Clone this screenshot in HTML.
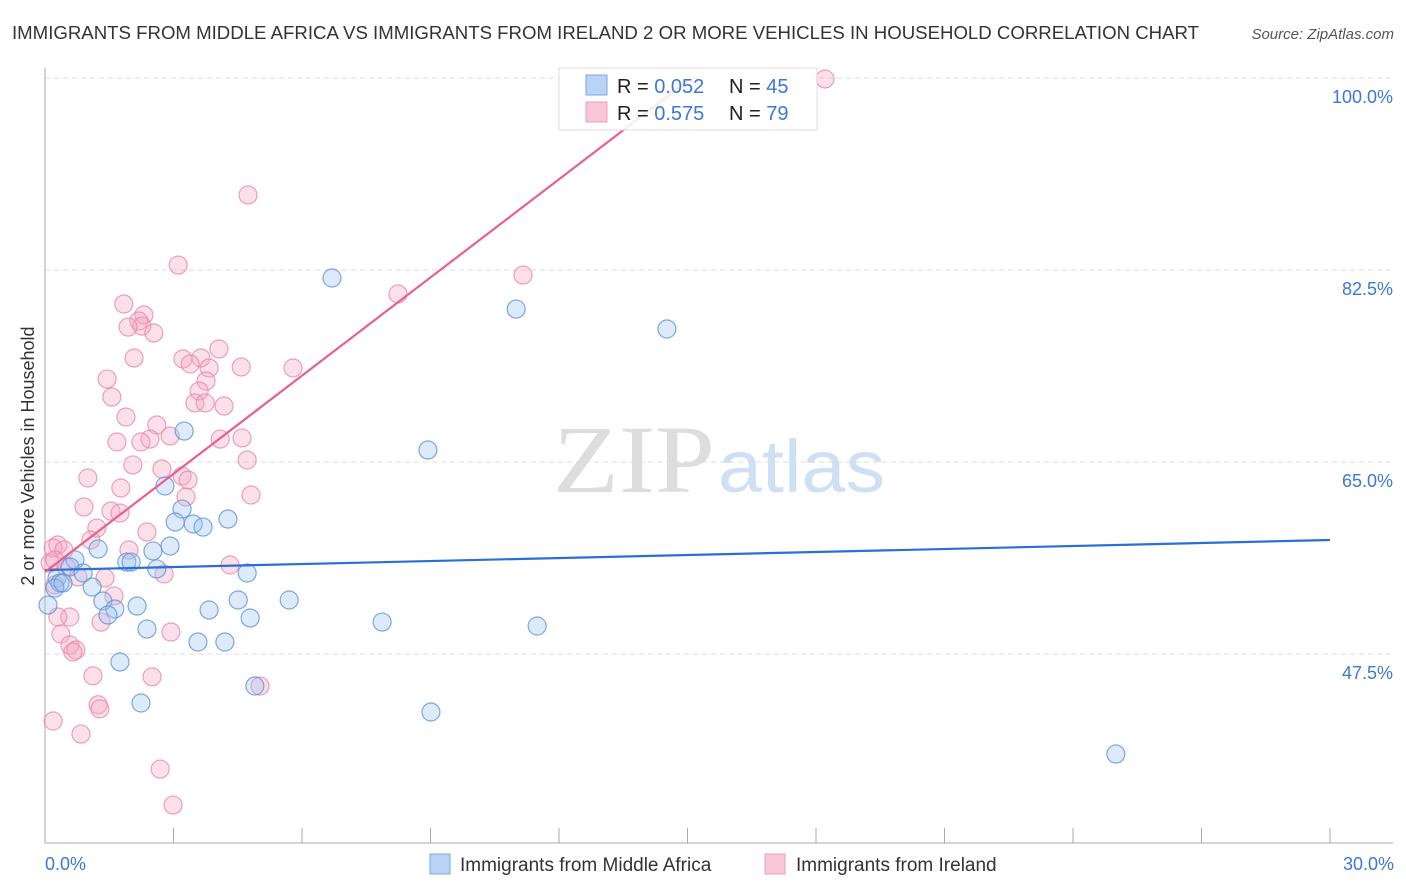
<!DOCTYPE html>
<html><head><meta charset="utf-8"><style>
body{margin:0;background:#fff;font-family:"Liberation Sans",sans-serif}
#wrap{position:relative;width:1406px;height:892px;overflow:hidden}
</style></head><body>
<div id="wrap">
<svg id="svg" width="1406" height="892" xmlns="http://www.w3.org/2000/svg">
<text x="12" y="39" font-size="18" fill="#333" textLength="1187" lengthAdjust="spacingAndGlyphs">IMMIGRANTS FROM MIDDLE AFRICA VS IMMIGRANTS FROM IRELAND 2 OR MORE VEHICLES IN HOUSEHOLD CORRELATION CHART</text>
<text x="1394" y="39" font-size="15" fill="#555" font-style="italic" text-anchor="end">Source: ZipAtlas.com</text>
<g>
<text x="553" y="492" font-family="Liberation Serif,serif" font-size="96" fill="#ddd" textLength="162" lengthAdjust="spacingAndGlyphs">ZIP</text>
<text x="718" y="492" font-size="74" fill="#cfe0f4" textLength="167" lengthAdjust="spacingAndGlyphs">atlas</text>
</g>
<g id="grid"></g><g id="axes"></g><g id="pts"></g><g id="trend"></g>
<g>
<rect x="559" y="68" width="258" height="62" fill="#fff" fill-opacity="0.85" stroke="#ddd"/>
<rect x="586" y="75" width="21" height="20" fill="#b8d3f5" stroke="#7aa8e4"/>
<rect x="586" y="102" width="21" height="20" fill="#f9c6d5" stroke="#eaa0b8"/>
<text x="617" y="93" font-size="20" fill="#222">R = <tspan fill="#3b78d8">0.052</tspan></text>
<text x="729" y="93" font-size="20" fill="#222">N = <tspan fill="#3b78d8">45</tspan></text>
<text x="617" y="120" font-size="20" fill="#222">R = <tspan fill="#3b78d8"> 0.575</tspan></text>
<text x="729" y="120" font-size="20" fill="#222">N = <tspan fill="#3b78d8">79</tspan></text>
</g>
<text transform="translate(34,456) rotate(-90)" font-size="18" fill="#333" text-anchor="middle">2 or more Vehicles in Household</text>
<text x="45" y="870" font-size="18" fill="#3b78d8">0.0%</text>
<text x="1394" y="870" font-size="18" fill="#3b78d8" text-anchor="end">30.0%</text>
<g>
<rect x="430" y="854" width="20" height="20" fill="#b8d3f5" stroke="#7aa8e4"/>
<text x="460" y="871" font-size="19" fill="#333">Immigrants from Middle Africa</text>
<rect x="765" y="854" width="20" height="20" fill="#f9c6d5" stroke="#eaa0b8"/>
<text x="796" y="871" font-size="19" fill="#333">Immigrants from Ireland</text>
</g>
</svg>
</div>
<script>
const yTicks=[100,82.5,65,47.5];
const yTickLabels=["100.0%","82.5%","65.0%","47.5%"];
const blueX=[6.70,11.00,14.52,8.94,3.25,2.80,3.20,3.04,3.46,3.69,4.27,1.24,2.52,2.92,0.70,1.91,2.01,2.61,4.72,0.58,0.89,0.28,0.35,0.23,1.10,1.35,2.15,1.63,1.47,3.83,4.51,4.79,5.70,7.87,11.49,2.38,3.57,4.20,1.75,4.90,2.24,9.01,25.00,0.07,0.42];
const blueY=[81.77,78.94,77.12,66.09,67.82,62.81,60.71,59.53,59.35,59.07,59.80,57.07,56.89,57.34,56.07,55.88,55.88,55.25,54.88,55.43,54.88,54.43,53.97,53.51,53.60,52.33,51.87,51.60,51.05,51.51,52.42,50.78,52.42,50.41,50.05,49.77,48.59,48.59,46.77,44.58,43.03,42.21,38.38,51.96,53.97];
const pinkX=[18.21,4.74,3.11,11.16,8.24,1.84,2.31,2.19,2.26,1.94,2.54,4.06,2.08,3.22,3.64,3.39,3.83,4.58,5.79,1.45,3.76,3.60,1.56,3.50,3.74,4.18,1.89,2.61,2.45,1.68,2.24,2.92,4.09,4.60,4.72,2.05,2.73,3.20,3.34,1.00,1.77,3.29,4.81,0.91,1.54,1.75,2.38,1.21,0.30,1.07,0.19,0.44,1.96,4.32,0.12,0.49,2.78,1.40,0.77,0.23,1.61,0.58,0.30,1.31,2.94,0.37,0.58,0.72,0.65,1.12,2.50,1.24,1.28,5.02,0.19,0.84,2.69,2.99,0.23];
const pinkY=[99.91,89.34,82.95,82.04,80.31,79.40,78.40,77.85,77.39,77.30,76.76,75.30,74.48,74.39,74.48,73.93,73.57,73.66,73.57,72.56,72.38,71.47,70.92,70.38,70.38,70.10,69.10,68.37,67.09,66.82,66.82,67.37,67.09,67.19,65.18,64.73,64.36,63.72,63.36,63.54,62.63,61.81,61.99,60.90,60.53,60.35,58.62,58.98,57.43,57.89,57.16,56.98,56.98,55.61,55.79,55.43,54.79,54.43,54.52,53.79,52.79,50.87,50.87,50.41,49.50,49.32,48.32,47.86,47.68,45.51,45.42,42.87,42.50,44.58,41.39,40.20,37.01,33.73,56.07];
const blueTrend=[55.15,57.89];
const pinkTrend=[54.97,99.9];
const pinkTrendX=[0,15.06];
const NS="http://www.w3.org/2000/svg";
function sx(v){return 45+v/30*1285;}
function sy(v){return 78+(100-v)*10.971;}
function mk(t,a,p){const e=document.createElementNS(NS,t);for(const k in a)e.setAttribute(k,a[k]);p.appendChild(e);return e;}
const grid=document.getElementById('grid'),axes=document.getElementById('axes'),pts=document.getElementById('pts'),tr=document.getElementById('trend');
yTicks.forEach((t,i)=>{
 const l=mk('line',{x1:45,x2:1393,y1:sy(t),y2:sy(t),stroke:'#ddd','stroke-dasharray':'5,4'},grid);
 
 
 const tx=mk('text',{x:1393,y:sy(t)+25,'font-size':18,fill:'#3b78d8','text-anchor':'end'},grid);
 tx.textContent=yTickLabels[i];
 
 
});
const ya=mk('line',{x1:45,x2:45,y1:68,y2:843,stroke:'#aaa'},axes);


const xa=mk('line',{x1:45,x2:1393,y1:843,y2:843,stroke:'#aaa'},axes);


for(let v=0;v<=30;v+=3){
 const t=mk('line',{x1:sx(v),x2:sx(v),y1:828,y2:843,stroke:'#aaa'},axes);
 
 
}
function dots(X,Y,fill,stroke,name){
 X.forEach((x,i)=>{
  const c=mk('circle',{cx:sx(x),cy:sy(Y[i]),r:9,fill:fill,'fill-opacity':0.35,stroke:stroke,'stroke-opacity':0.8,'stroke-width':1.2},pts);
  
  
 });
}
dots(pinkX,pinkY,'#f4a7bf','#e88aa8','point-ireland');
dots(blueX,blueY,'#9ec2ef','#5b93de','point-middle-africa');
const bl=mk('line',{x1:sx(0),y1:sy(blueTrend[0]),x2:sx(30),y2:sy(blueTrend[1]),stroke:'#2a6fd6','stroke-width':2.2},tr);


const pl=mk('line',{x1:sx(pinkTrendX[0]),y1:sy(pinkTrend[0]),x2:sx(pinkTrendX[1]),y2:sy(pinkTrend[1]),stroke:'#e8608c','stroke-width':2.2},tr);


</script>
</body></html>
